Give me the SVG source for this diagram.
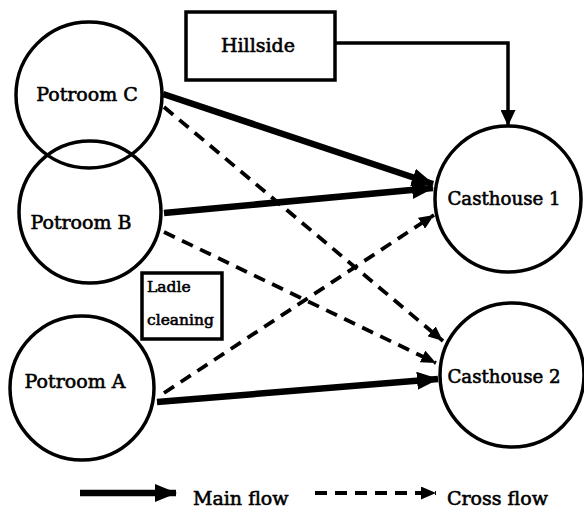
<svg xmlns="http://www.w3.org/2000/svg" width="584" height="509" viewBox="0 0 584 509">
<style>
.node{fill:none;stroke:#000;stroke-width:3.5}
.box{fill:#fff;stroke:#000;stroke-width:3.5}
.lbl{font-family:"DejaVu Serif","Liberation Serif",serif;font-size:19px;fill:#000;stroke:#000;stroke-width:0.6}
.small{font-size:15.5px}
.ch{font-size:18.2px}
.main{stroke:#000;stroke-width:6.5;fill:none;marker-end:url(#mh)}
.cross{stroke:#000;stroke-width:3.8;fill:none;stroke-dasharray:12 8;marker-end:url(#ch)}
.thin{stroke:#000;stroke-width:3.5;fill:none;marker-end:url(#th)}
</style>
<defs>
<marker id="mh" markerUnits="userSpaceOnUse" markerWidth="22" markerHeight="18" refX="21" refY="9" orient="auto"><path d="M0,0 L22,9 L0,18 z" fill="#000"/></marker>
<marker id="ch" markerUnits="userSpaceOnUse" markerWidth="15" markerHeight="13" refX="15" refY="6.5" orient="auto"><path d="M0,0 L15,6.5 L0,13 z" fill="#000"/></marker>
<marker id="th" markerUnits="userSpaceOnUse" markerWidth="16" markerHeight="15" refX="16" refY="7.5" orient="auto"><path d="M0,0 L16,7.5 L0,15 z" fill="#000"/></marker>
</defs>
<g id="connectors">
<line class="main" x1="163" y1="94" x2="433" y2="184"/>
<line class="main" x1="164" y1="213" x2="433" y2="188"/>
<line class="main" x1="157" y1="402" x2="438" y2="379"/>
<line class="cross" x1="164" y1="107" x2="443" y2="341"/>
<line class="cross" x1="164" y1="232" x2="436" y2="363"/>
<line class="cross" x1="164" y1="393" x2="434" y2="215"/>
<polyline class="thin" points="335,43 508,43 508,126"/>
</g>
<g id="potroomC"><circle class="node" cx="89" cy="95" r="73"/><text class="lbl" x="87" y="101" text-anchor="middle">Potroom C</text></g>
<g id="potroomB"><circle class="node" cx="90" cy="212" r="71"/><text class="lbl" x="81" y="229" text-anchor="middle">Potroom B</text></g>
<g id="potroomA"><circle class="node" cx="82" cy="388" r="72"/><text class="lbl" x="75" y="388" text-anchor="middle">Potroom A</text></g>
<g id="hillside"><rect class="box" x="186" y="12" width="149" height="68"/><text class="lbl" x="258" y="52" text-anchor="middle">Hillside</text></g>
<g id="ladle"><rect class="box" x="142" y="273" width="80" height="66" stroke-width="3"/><text class="lbl small" x="147" y="292">Ladle</text><text class="lbl small" x="147" y="325">cleaning</text></g>
<g id="casthouse1"><circle class="node" cx="508" cy="199" r="73"/><text class="lbl ch" x="504" y="205" text-anchor="middle">Casthouse 1</text></g>
<g id="casthouse2"><circle class="node" cx="512" cy="375" r="72"/><text class="lbl ch" x="504" y="383" text-anchor="middle">Casthouse 2</text></g>
<g id="legend">
<line class="main" x1="80" y1="493" x2="176" y2="493"/>
<text class="lbl" x="193" y="505">Main flow</text>
<line class="cross" x1="315" y1="493" x2="436" y2="493" stroke-dasharray="11 7"/>
<text class="lbl" x="447" y="505">Cross flow</text>
</g>
</svg>
